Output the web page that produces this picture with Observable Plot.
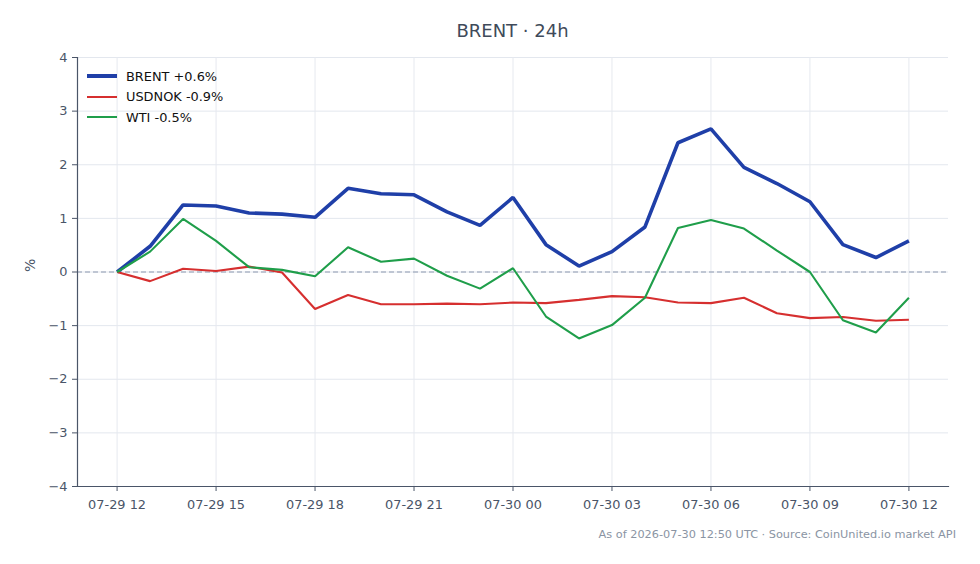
<!DOCTYPE html>
<html>
<head>
<meta charset="utf-8">
<script src="https://cdn.jsdelivr.net/npm/d3@7"></script>
<script src="https://cdn.jsdelivr.net/npm/@observablehq/plot@0.6"></script>
<style>
  html, body { margin: 0; padding: 0; background: #fff; }
  #wrap { position: relative; width: 980px; height: 564px; font-family: "DejaVu Sans", sans-serif; }
  #title { position: absolute; left: 77px; width: 871px; top: 20px; text-align: center; font-size: 18px; color: #3f4a5a; }
  #caption { position: absolute; right: 24px; top: 528px; font-size: 11.3px; color: #8a94a3; }
  #legend { position: absolute; left: 87px; top: 66px; font-size: 12.9px; color: #111; }
  #legend .row { display: flex; align-items: center; height: 20.5px; }
  #legend .sw { width: 30px; margin-right: 9px; }
  #chart { position: absolute; left: 0; top: 0; }
</style>
</head>
<body>
<div id="wrap">
  <div id="chart"></div>
  <div id="title">BRENT · 24h</div>
  <div id="legend"></div>
  <div id="caption">As of 2026-07-30 12:50 UTC · Source: CoinUnited.io market API</div>
</div>
<script>
// Hourly % change since 2026-07-29 12:00 UTC
const start = Date.UTC(2026, 6, 29, 12);
const hours = d3.range(25);
const brent  = [0, 0.48, 1.25, 1.23, 1.10, 1.08, 1.02, 1.56, 1.46, 1.44, 1.12, 0.87, 1.39, 0.51, 0.11, 0.38, 0.84, 2.41, 2.67, 1.95, 1.65, 1.31, 0.51, 0.27, 0.58];
const usdnok = [0, -0.17, 0.06, 0.02, 0.10, -0.01, -0.69, -0.43, -0.60, -0.60, -0.59, -0.60, -0.57, -0.58, -0.52, -0.45, -0.47, -0.57, -0.58, -0.48, -0.77, -0.86, -0.84, -0.91, -0.89];
const wti    = [0, 0.38, 0.99, 0.58, 0.09, 0.04, -0.08, 0.46, 0.19, 0.25, -0.07, -0.31, 0.07, -0.83, -1.24, -0.99, -0.48, 0.82, 0.97, 0.81, 0.40, 0.00, -0.90, -1.13, -0.48];

const seriesNames  = ["BRENT", "USDNOK", "WTI"];
const seriesValues = [brent, usdnok, wti];
const seriesColors = ["#1f3fa8", "#d62f2f", "#1f9e4a"];
const seriesWidths = [3.6, 2.1, 2.1];
const yTicks = [-4, -3, -2, -1, 0, 1, 2, 3, 4];

const rows = seriesNames.flatMap((name, s) =>
  hours.map(h => ({series: name, time: new Date(start + h * 3600e3), value: seriesValues[s][h]}))
);

const pad = 1.2 * 3600e3;
const xDomain = [new Date(start - pad), new Date(start + 24 * 3600e3 + pad)];
const xTicks = d3.range(0, 25, 3).map(h => new Date(start + h * 3600e3));
const fmtTime = d3.utcFormat("%m-%d %H");

const chart = Plot.plot({
  width: 980,
  height: 564,
  marginLeft: 77,
  marginRight: 32,
  marginTop: 57,
  marginBottom: 78,
  style: {fontFamily: "DejaVu Sans, sans-serif", fontSize: "12.9px", color: "#4a5568", background: "transparent"},
  x: {type: "utc", domain: xDomain},
  y: {domain: [-4, 4]},
  marks: [
    Plot.gridY(yTicks, {stroke: "#e3e7ee", strokeOpacity: 1}),
    Plot.gridX(xTicks, {stroke: "#e6e9ef", strokeOpacity: 1}),
    Plot.ruleY([0], {stroke: "#8d9ab0", strokeWidth: 1.1, strokeDasharray: "5,3"}),
    ...seriesNames.map((name, s) =>
      Plot.line(rows.filter(d => d.series === name), {
        x: "time", y: "value",
        stroke: seriesColors[s], strokeWidth: seriesWidths[s],
        strokeLinejoin: "miter", strokeLinecap: "butt"
      })
    ),
    Plot.axisX(xTicks, {tickSize: 5, tickPadding: 8, tickFormat: fmtTime, stroke: "#4a5568", fill: "#4a5568", label: null}),
    Plot.axisY(yTicks, {tickSize: 5, tickPadding: 5, tickFormat: d3.format("d"), stroke: "#4a5568", fill: "#4a5568", label: null}),
    Plot.text(["%"], {frameAnchor: "left", dx: -47, rotate: -90, fontSize: 14, fill: "#4a5568"}),
    Plot.frame({anchor: "left", stroke: "#4a5568", strokeWidth: 1.2}),
    Plot.frame({anchor: "bottom", stroke: "#4a5568", strokeWidth: 1.2})
  ]
});
document.getElementById("chart").append(chart);

// Legend: last value of each series
const legend = document.getElementById("legend");
seriesNames.forEach((name, s) => {
  const last = seriesValues[s][seriesValues[s].length - 1];
  const row = document.createElement("div");
  row.className = "row";
  const sw = document.createElement("div");
  sw.className = "sw";
  sw.style.height = seriesWidths[s] + "px";
  sw.style.background = seriesColors[s];
  const label = document.createElement("span");
  label.textContent = `${name} ${last >= 0 ? "+" : "-"}${Math.abs(last).toFixed(1)}%`;
  row.append(sw, label);
  legend.append(row);
});
</script>
</body>
</html>
